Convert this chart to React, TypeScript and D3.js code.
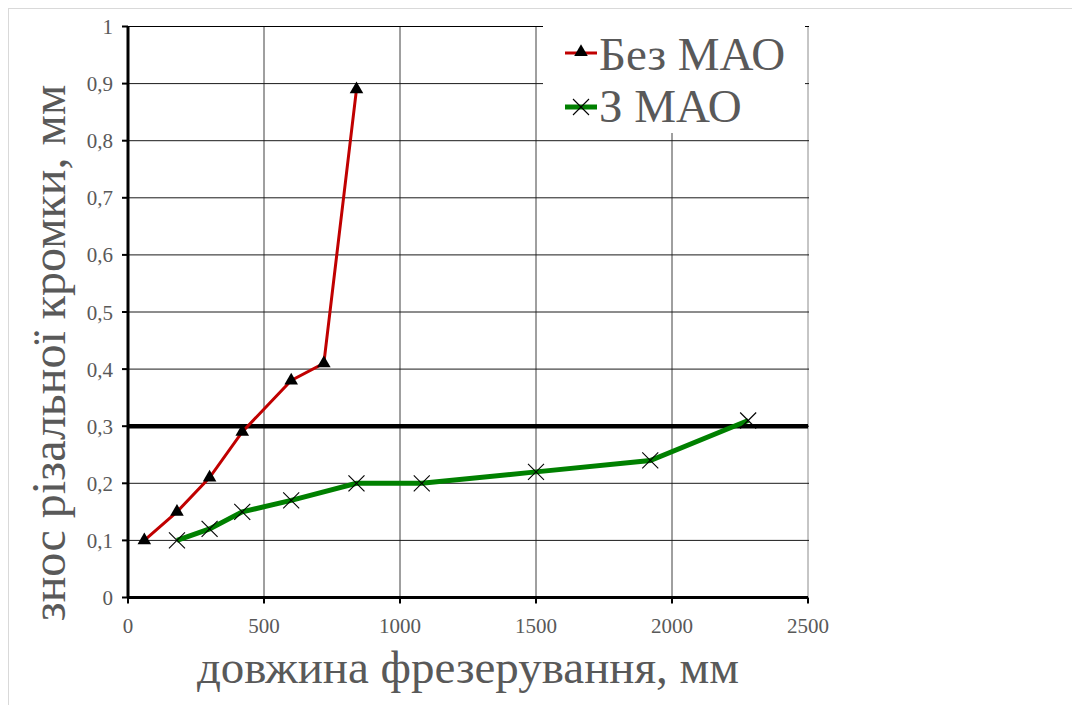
import React from "react";
import * as d3 from "d3";

const xTicks = [0, 500, 1000, 1500, 2000, 2500];
const yTicks = [0, 0.1, 0.2, 0.3, 0.4, 0.5, 0.6, 0.7, 0.8, 0.9, 1];

const seriesNames = ["Без МАО", "З МАО"];
const bezX = [60, 180, 300, 420, 600, 720, 840];
const bezY = [0.1, 0.15, 0.21, 0.29, 0.38, 0.41, 0.89];
const zX = [180, 300, 420, 600, 840, 1080, 1500, 1920, 2280];
const zY = [0.1, 0.12, 0.15, 0.17, 0.2, 0.2, 0.22, 0.24, 0.31];
const threshold = 0.3;

const xTitle = "довжина фрезерування, мм";
const yTitle = "знос різальної кромки, мм";

const W = 1072;
const H = 697;
const left = 120;
const right = 800;
const top = 18.5;
const bottom = 589.5;

const FONT = "Liberation Serif";
const GRAY = "#595959";

export default function App() {
  const x = d3.scaleLinear().domain([0, 2500]).range([left, right]);
  const y = d3.scaleLinear().domain([0, 1]).range([bottom, top]);
  const line = d3
    .line<[number, number]>()
    .x((d) => x(d[0]))
    .y((d) => y(d[1]))
    .curve(d3.curveLinear);
  const bez: [number, number][] = bezX.map((v, i) => [v, bezY[i]]);
  const z: [number, number][] = zX.map((v, i) => [v, zY[i]]);
  const tri = d3.symbol().type(d3.symbolTriangle).size(80)() as string;

  const lgX0 = 535;
  const lgX1 = 797;
  const lgY0 = 16;
  const lgY1 = 125;

  const fmt = (v: number) => String(v).replace(".", ",");
  const ts = { fontFamily: FONT };
  const cross = (k: string, cx: number, cy: number) => (
    <g key={k} transform={`translate(${cx},${cy})`} stroke="#000" strokeWidth={1.1}>
      <line x1={-8} y1={-8} x2={8} y2={8} />
      <line x1={-8} y1={8} x2={8} y2={-8} />
    </g>
  );

  return (
    <svg width={W} height={H} style={{ display: "block", fontFamily: FONT }}>
      <rect x={0.5} y={0.5} width={W + 20} height={H + 20} fill="#fff" stroke="#d9d9d9" />
      {xTicks.slice(1).map((t) => (
        <line key={"vx" + t} x1={x(t)} x2={x(t)} y1={top} y2={bottom} stroke={t === 2500 ? "#8c8c8c" : "#404040"} strokeWidth={1} />
      ))}
      {yTicks.slice(1).map((t) => (
        <line key={"hy" + t} x1={left} x2={right + 1} y1={y(t)} y2={y(t)} stroke={t === 1 ? "#000" : "#1a1a1a"} strokeWidth={1} />
      ))}
      <rect x={lgX0} y={lgY0} width={lgX1 - lgX0} height={lgY1 - lgY0} fill="#fff" />
      <line x1={left} x2={right} y1={y(threshold)} y2={y(threshold)} stroke="#000" strokeWidth={4.5} />
      <line x1={left} x2={left} y1={top} y2={bottom} stroke="#000" strokeWidth={3} />
      <line x1={left} x2={right} y1={bottom} y2={bottom} stroke="#000" strokeWidth={3} />
      {yTicks.map((t) => (
        <g key={"yt" + t}>
          <line x1={left - 6} x2={left} y1={y(t)} y2={y(t)} stroke="#000" strokeWidth={2} />
          <text x={left - 15} y={y(t)} dy="0.36em" textAnchor="end" style={ts} fontSize={21} fill={GRAY}>
            {fmt(t)}
          </text>
        </g>
      ))}
      {xTicks.map((t) => (
        <g key={"xt" + t}>
          <line x1={x(t)} x2={x(t)} y1={bottom} y2={bottom + 6} stroke="#000" strokeWidth={2} />
          <text x={x(t)} y={bottom + 35.5} textAnchor="middle" style={ts} fontSize={21} fill={GRAY}>
            {t}
          </text>
        </g>
      ))}
      <path d={line(bez) || ""} fill="none" stroke="#c00000" strokeWidth={3} />
      <path d={line(z) || ""} fill="none" stroke="#008000" strokeWidth={5} />
      {bez.map((d, i) => (
        <path key={"m" + i} d={tri} transform={`translate(${x(d[0])},${y(d[1])})`} fill="#000" />
      ))}
      {z.map((d, i) => cross("c" + i, x(d[0]), y(d[1])))}
      <g>
        <line x1={557} x2={589} y1={45} y2={45} stroke="#c00000" strokeWidth={3} />
        <path d={tri} transform="translate(573,44)" fill="#000" />
        <text x={591} y={62} style={ts} fontSize={47} fill={GRAY}>
          {seriesNames[0]}
        </text>
        <line x1={557} x2={589} y1={99} y2={99} stroke="#008000" strokeWidth={5} />
        {cross("lg", 573, 99)}
        <text x={591} y={114} style={ts} fontSize={47} fill={GRAY}>
          {seriesNames[1]}
        </text>
      </g>
      <text x={460} y={675} textAnchor="middle" style={ts} fontSize={47} fill={GRAY}>
        {xTitle}
      </text>
      <text transform={`translate(57,345) rotate(-90)`} textAnchor="middle" style={ts} fontSize={48} fill={GRAY}>
        {yTitle}
      </text>
    </svg>
  );
}
